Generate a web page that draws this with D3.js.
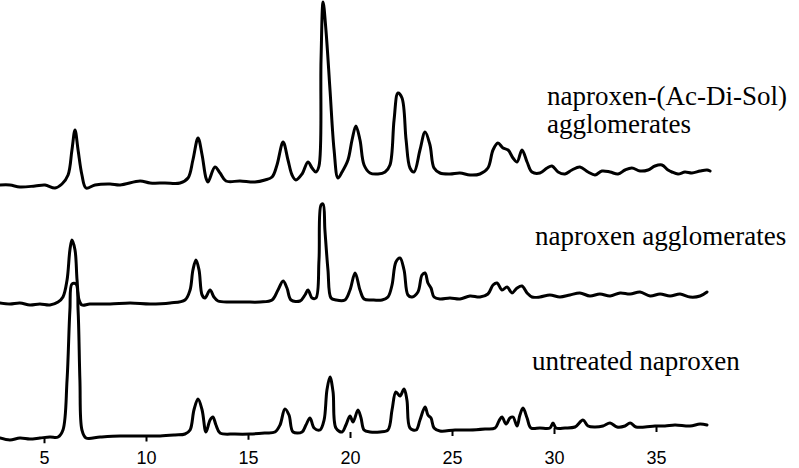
<!DOCTYPE html>
<html>
<head>
<meta charset="utf-8">
<script src="https://cdn.jsdelivr.net/npm/d3@7"></script>
<style>
  body { margin: 0; background: #fff; }
  svg { display: block; }
  .trace { fill: none; stroke: #000; stroke-width: 3; stroke-linejoin: round; stroke-linecap: round; }
  .name { font-family: "Liberation Serif", "Times New Roman", serif; font-size: 27px; fill: #000; }
</style>
</head>
<body>
<svg width="799" height="468"></svg>
<script>
// 2-theta (deg) vs intensity (a.u., relative to each pattern's own baseline)
var untreated = [
  [2.84,0],[3.33,-2],[3.82,0],[4.31,-1],[4.80,0],[5.29,1],[5.69,1],[5.93,8],[6.13,58],[6.27,128],
  [6.37,154],[6.57,154],[6.67,128],[6.76,58],[6.86,8],[7.06,0],[7.75,1],[8.73,2],[9.71,2],[10.69,2],
  [11.42,3],[11.91,4],[12.16,8],[12.35,28],[12.55,39],[12.75,28],[12.94,6],[13.14,18],[13.28,21],[13.43,13],
  [13.63,5],[14.36,4],[15.10,4],[15.83,5],[16.32,6],[16.57,13],[16.81,29],[17.01,23],[17.21,6],[17.65,6],
  [17.84,13],[18.04,20],[18.24,10],[18.53,8],[18.73,18],[18.87,48],[19.02,61],[19.17,46],[19.31,10],[19.61,6],
  [19.80,13],[20.00,22],[20.15,16],[20.39,28],[20.54,20],[20.69,8],[20.98,6],[21.47,6],[21.86,8],[22.06,28],
  [22.25,46],[22.45,42],[22.65,49],[22.79,38],[22.94,10],[23.24,8],[23.43,18],[23.68,31],[23.82,23],[23.97,20],
  [24.12,10],[24.41,7],[25.15,8],[25.88,8],[26.62,9],[27.11,10],[27.30,17],[27.45,21],[27.65,14],[27.84,20],
  [27.99,21],[28.19,12],[28.33,23],[28.48,30],[28.68,20],[28.87,10],[29.31,10],[29.80,10],[29.95,15],[30.10,10],
  [30.54,10],[31.03,11],[31.42,18],[31.67,12],[32.01,11],[32.40,12],[32.75,15],[33.09,11],[33.48,12],[33.73,15],
  [34.02,11],[34.46,11],[34.95,12],[35.44,12],[35.93,13],[36.67,12],[37.16,14],[37.50,13]
];

var agglomerates = [
  [2.84,0],[3.33,-1],[3.82,0],[4.31,-2],[4.80,-1],[5.29,-2],[5.69,1],[5.93,6],[6.13,23],[6.27,53],
  [6.37,63],[6.52,53],[6.62,23],[6.72,3],[6.86,-2],[7.25,-1],[8.24,-1],[9.22,0],[10.20,-1],[11.18,0],
  [11.91,3],[12.16,13],[12.30,33],[12.45,43],[12.60,33],[12.75,8],[12.89,5],[13.14,13],[13.33,6],[13.53,2],
  [14.12,1],[14.85,1],[15.59,1],[16.18,3],[16.47,13],[16.72,22],[16.91,15],[17.11,3],[17.55,2],[17.79,8],
  [17.94,13],[18.14,5],[18.33,5],[18.48,43],[18.58,98],[18.68,99],[18.77,73],[18.92,33],[19.07,5],[19.31,3],
  [19.75,3],[20.00,13],[20.25,30],[20.49,13],[20.69,4],[21.08,3],[21.57,3],[21.86,6],[22.06,18],[22.25,41],
  [22.45,45],[22.65,33],[22.84,8],[23.04,6],[23.33,11],[23.53,28],[23.68,30],[23.82,20],[23.97,15],[24.12,6],
  [24.41,4],[24.90,5],[25.39,4],[25.88,7],[26.37,6],[26.76,9],[27.01,18],[27.21,20],[27.45,13],[27.70,16],
  [27.94,10],[28.19,15],[28.43,17],[28.68,10],[28.92,6],[29.31,6],[29.80,8],[30.29,6],[30.78,8],[31.27,10],
  [31.76,7],[32.25,9],[32.75,7],[33.24,10],[33.73,9],[34.22,11],[34.71,7],[35.20,9],[35.69,7],[36.18,9],
  [36.67,6],[37.16,7],[37.50,11]
];

var acDiSol = [
  [2.84,0],[3.33,0],[3.82,-2],[4.56,-1],[5.05,0],[5.54,-3],[5.88,1],[6.18,10],[6.37,35],[6.52,55],
  [6.67,35],[6.86,10],[7.06,-3],[7.50,0],[8.24,1],[8.73,0],[9.71,4],[10.20,2],[10.93,2],[11.67,2],
  [12.06,7],[12.30,25],[12.55,47],[12.75,30],[12.94,7],[13.04,3],[13.38,18],[13.63,12],[13.92,4],[14.61,4],
  [15.34,3],[15.83,5],[16.18,8],[16.42,20],[16.72,43],[16.96,25],[17.16,10],[17.35,5],[17.65,11],[17.94,23],
  [18.14,17],[18.33,13],[18.48,19],[18.58,125],[18.68,183],[18.82,155],[19.02,95],[19.22,35],[19.41,7],[19.61,13],
  [19.90,25],[20.10,45],[20.29,59],[20.49,45],[20.69,20],[20.98,12],[21.37,11],[21.72,13],[21.96,20],[22.16,65],
  [22.35,92],[22.55,87],[22.75,45],[22.94,17],[23.14,13],[23.43,35],[23.68,53],[23.92,40],[24.12,17],[24.41,12],
  [24.90,11],[25.39,12],[25.88,10],[26.37,11],[26.76,17],[27.01,35],[27.25,42],[27.50,37],[27.75,35],[27.99,27],
  [28.19,23],[28.43,35],[28.68,23],[28.92,13],[29.31,12],[29.66,17],[29.90,19],[30.20,13],[30.54,11],[30.88,15],
  [31.27,18],[31.67,13],[32.01,10],[32.35,14],[32.75,13],[33.14,11],[33.48,15],[33.82,17],[34.22,14],[34.61,15],
  [34.95,19],[35.29,20],[35.59,15],[35.78,13],[36.08,11],[36.42,13],[36.76,12],[37.16,14],[37.50,15],[37.65,14]
];

var patterns = [untreated, agglomerates, acDiSol];
var offsets = [0, 135, 253];
var names = [["untreated naproxen"], ["naproxen agglomerates"], ["naproxen-(Ac-Di-Sol)", "agglomerates"]];
var tickValues = [5, 10, 15, 20, 25, 30, 35];
// slight drift of the lowest baseline, read at the ends and middle
var axisDrift = [[2.84, 0], [20, 6], [37.5, 13]];

var svg = d3.select("svg"),
    width = +svg.attr("width"),
    height = +svg.attr("height");

var x = d3.scaleLinear().domain([5, 35]).range([44, 656]);
var y = d3.scaleLinear().domain([0, 440]).range([438, -2]);

var line = d3.line()
  .x(d => x(d[0]))
  .y(d => y(d[1]))
  .curve(d3.curveCatmullRom.alpha(0.5));

svg.append("g")
  .selectAll("path")
  .data(patterns)
  .enter().append("path")
    .attr("class", "trace")
    .attr("d", (p, i) => line(p.map(d => [d[0], d[1] + offsets[i]])));

// AXIS (ticks hang from the lowest pattern's baseline)
var drift = d3.scaleLinear()
  .domain(axisDrift.map(d => d[0]))
  .range(axisDrift.map(d => d[1]));

var axis = svg.append("g")
  .attr("transform", "translate(0," + y(0) + ")")
  .call(d3.axisBottom(x).tickValues(tickValues).tickSize(0).tickPadding(0).tickFormat(d3.format("d")))
  .attr("font-family", "Liberation Sans, Arial, sans-serif")
  .attr("font-size", 18);
axis.select(".domain").remove();
axis.selectAll(".tick text")
  .attr("y", 26)
  .attr("dy", 0)
  .attr("fill", "#000");
axis.selectAll(".tick line")
  .attr("stroke", "#000")
  .attr("stroke-width", 2)
  .attr("y1", d => y(drift(d)) - y(0))
  .attr("y2", d => y(drift(d)) - y(0) + 6);

// NAMES
var namePos = [[532, 370], [535, 245], [547, 105]];
names.forEach(function(lines, i) {
  var t = svg.append("text")
    .attr("class", "name")
    .attr("x", namePos[i][0])
    .attr("y", namePos[i][1]);
  lines.forEach(function(s, j) {
    t.append("tspan")
      .attr("x", namePos[i][0])
      .attr("dy", j === 0 ? 0 : 28)
      .text(s);
  });
});
</script>
</body>
</html>
